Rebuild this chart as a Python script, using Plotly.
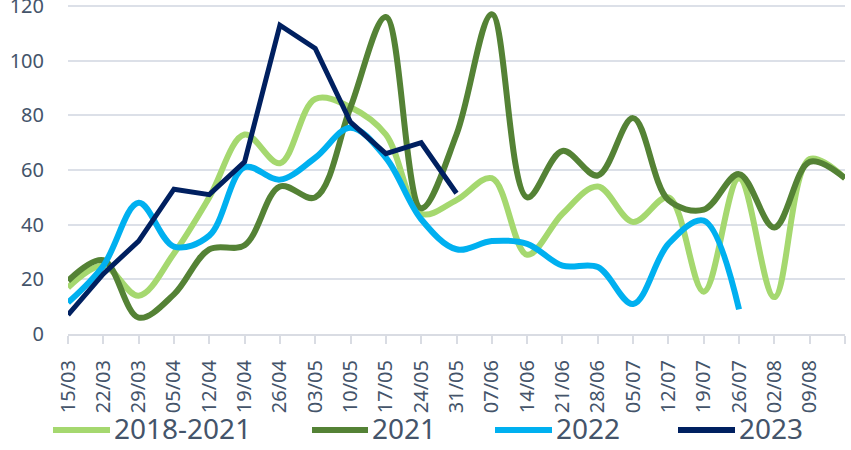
import plotly.graph_objects as go

categories = ["15/03", "22/03", "29/03", "05/04", "12/04", "19/04", "26/04", "03/05",
              "10/05", "17/05", "24/05", "31/05", "07/06", "14/06", "21/06", "28/06",
              "05/07", "12/07", "19/07", "26/07", "02/08", "09/08", "16/08"]
tick_labels = ["15/03", "22/03", "29/03", "05/04", "12/04", "19/04", "26/04", "03/05",
               "10/05", "17/05", "24/05", "31/05", "07/06", "14/06", "21/06", "28/06",
               "05/07", "12/07", "19/07", "26/07", "02/08", "09/08", ""]

s_2018_2021 = [17, 25, 14, 29.5, 50, 73, 62.5, 86, 83, 73, 44, 49, 57, 29, 44, 54,
               41, 50, 15.5, 57, 13.5, 64, 57]
s_2021 = [19.5, 27, 6, 14.5, 31, 32.5, 54, 50, 83, 116, 46, 73, 117, 50, 67, 58,
          79, 49, 45.5, 58.5, 39, 63, 57]
s_2022 = [11.5, 25, 48, 32, 36, 61, 56.5, 64.5, 75.5, 64.5, 42, 31, 34, 33, 25, 24.5,
          11, 33, 41.5, 9]
s_2023 = [7, 22, 34, 53, 51, 63, 113, 104.5, 77.5, 66, 70, 51.5]

y_ticks = [0, 20, 40, 60, 80, 100, 120]

series_names = ["2018-2021", "2021", "2022", "2023"]
series_values = [s_2018_2021, s_2021, s_2022, s_2023]
colors = ["#A5D86F", "#548235", "#00B0F0", "#002060"]
widths = [6, 6, 6, 5]
shapes_ = ["spline", "spline", "spline", "linear"]

W, H = 851, 450
ML, MR, MT, MB = 68, 6, 5, 116
text_color = "#44546A"
grid_color = "#DCE0E8"

fig = go.Figure()
for name, vals, col, w, shp in zip(series_names, series_values, colors, widths, shapes_):
    fig.add_trace(go.Scatter(
        x=categories[:len(vals)], y=vals, mode="lines", name=name,
        line=dict(color=col, width=w, shape=shp, smoothing=1.0),
        showlegend=False,
    ))

# manual legend (Excel style, long line samples)
plot_w = W - ML - MR
plot_h = H - MT - MB
legend_items_px = [(53, 110), (312, 368), (495, 552), (678, 735)]
legend_line_y_px = 430
legend_text_y_px = 428
shapes = []
annotations = []
for (x0, x1), name, col in zip(legend_items_px, series_names, colors):
    ly = -(legend_line_y_px - (H - MB)) / plot_h
    ty = -(legend_text_y_px - (H - MB)) / plot_h
    shapes.append(dict(type="line", xref="paper", yref="paper",
                       x0=(x0 - ML) / plot_w, x1=(x1 - ML) / plot_w, y0=ly, y1=ly,
                       line=dict(color=col, width=6)))
    annotations.append(dict(xref="paper", yref="paper", x=(x1 + 2 - ML) / plot_w, y=ty,
                            xanchor="left", yanchor="middle", showarrow=False,
                            text=name, font=dict(size=28, color=text_color,
                                                 family="Noto Sans")))

fig.update_layout(
    width=W, height=H,
    margin=dict(l=ML, r=MR, t=MT, b=MB, autoexpand=False),
    paper_bgcolor="white", plot_bgcolor="white",
    font=dict(family="Noto Sans", color=text_color),
    shapes=shapes, annotations=annotations,
)
fig.update_xaxes(
    type="category", categoryorder="array", categoryarray=categories,
    range=[0, len(categories) - 1], automargin=False,
    tickmode="array", tickvals=categories, ticktext=tick_labels,
    tickangle=-90, tickfont=dict(size=20, color=text_color),
    ticks="outside", ticklen=8, tickwidth=2, tickcolor="#D9DCE3",
    showline=True, linecolor="#D9DCE3", linewidth=2,
    showgrid=False, zeroline=False, ticklabelstandoff=8,
)
fig.update_yaxes(
    range=[0, 120.4], tickmode="array", tickvals=y_ticks, automargin=False,
    tickfont=dict(size=20, color=text_color), ticklabeloverflow="allow",
    showgrid=True, gridcolor=grid_color, gridwidth=2,
    zeroline=False, ticklabelstandoff=23,
)

fig.write_html(
    "out.html",
    config={"displayModeBar": False},
    post_script="document.body.style.margin='0';document.body.style.overflow='hidden';",
)
